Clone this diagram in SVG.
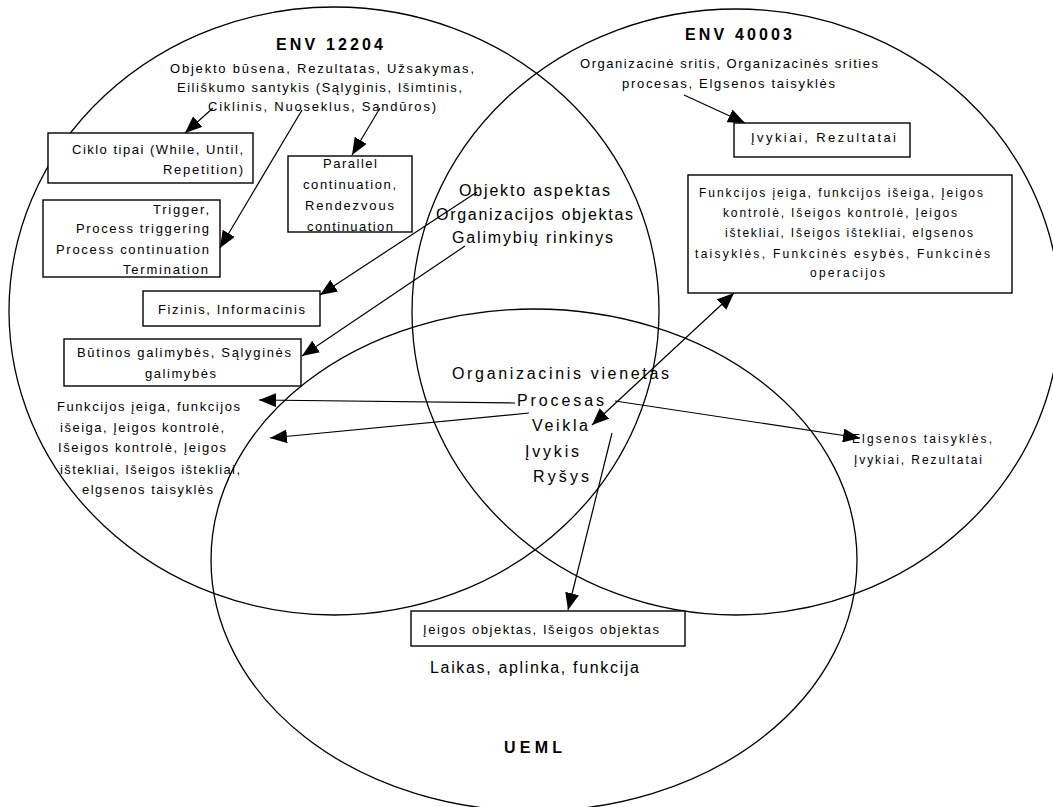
<svg xmlns="http://www.w3.org/2000/svg" width="1053" height="807" viewBox="0 0 1053 807">
  <defs>
    <marker id="head" markerUnits="userSpaceOnUse" markerWidth="17" markerHeight="14" viewBox="0 0 17 14" refX="17" refY="7" orient="auto-start-reverse">
      <path d="M0,0 L17,7 L0,14 Z" fill="#000"/>
    </marker>
    <style>
      .set { fill: none; stroke: #000; stroke-width: 1.3; }
      .box { fill: #fff; stroke: #000; stroke-width: 1.4; }
      .link { fill: none; stroke: #000; stroke-width: 1.2; }
      .arrow { marker-end: url(#head); }
      .both { marker-start: url(#head); marker-end: url(#head); }
      text { font-family: "Liberation Sans", Arial, sans-serif; fill: #000; }
      .t { font-size: 13px; }
      .s { font-size: 12px; }
      .m { font-size: 16px; }
      .h { font-size: 16px; font-weight: bold; }
    </style>
  </defs>
  <rect width="1053" height="807" fill="#fff"/>

  <!-- the three standards as overlapping sets -->
  <g id="set-env12204">
    <ellipse class="set" cx="334" cy="311" rx="325" ry="304"/>
  </g>
  <g id="set-env40003">
    <ellipse class="set" cx="736" cy="312" rx="324" ry="303"/>
  </g>
  <g id="set-ueml">
    <ellipse class="set" cx="534" cy="560" rx="323" ry="251"/>
  </g>

  <!-- ENV 12204 -->
  <g id="env12204-label">
    <text class="h" x="276" y="50" textLength="107">ENV 12204</text>
    <text class="t" x="170" y="73" textLength="304">Objekto būsena, Rezultatas, Užsakymas,</text>
    <text class="t" x="177" y="92" textLength="285">Eiliškumo santykis (Sąlyginis, Išimtinis,</text>
    <text class="t" x="208" y="111" textLength="228">Ciklinis, Nuoseklus, Sandūros)</text>
  </g>
  <g id="ciklo-tipai">
    <rect class="box" x="48" y="133" width="205" height="50"/>
    <text class="t" x="72" y="154" textLength="171">Ciklo tipai (While, Until,</text>
    <text class="t" x="163" y="174" textLength="80">Repetition)</text>
  </g>
  <g id="parallel">
    <rect class="box" x="288" y="156" width="124" height="76"/>
    <text class="t" x="323" y="168" textLength="54">Parallel</text>
    <text class="t" x="303" y="189" textLength="93">continuation,</text>
    <text class="t" x="305" y="210" textLength="89">Rendezvous</text>
    <text class="t" x="307" y="231" textLength="86">continuation</text>
  </g>
  <g id="trigger">
    <rect class="box" x="43" y="200" width="177" height="77"/>
    <text class="t" x="153" y="214" textLength="56">Trigger,</text>
    <text class="t" x="76" y="233" textLength="133">Process triggering</text>
    <text class="t" x="56" y="254" textLength="153">Process continuation</text>
    <text class="t" x="123" y="274" textLength="85">Termination</text>
  </g>
  <g id="fizinis">
    <rect class="box" x="143" y="291" width="177" height="35"/>
    <text class="t" x="158" y="314" textLength="147">Fizinis, Informacinis</text>
  </g>
  <g id="butinos">
    <rect class="box" x="64" y="339" width="237" height="47"/>
    <text class="t" x="77" y="357" textLength="214">Būtinos galimybės, Sąlyginės</text>
    <text class="t" x="145" y="378" textLength="71">galimybės</text>
  </g>
  <g id="funkcijos-left">
    <text class="t" x="57" y="411" textLength="183">Funkcijos įeiga, funkcijos</text>
    <text class="t" x="60" y="432" textLength="164">išeiga, Įeigos kontrolė,</text>
    <text class="t" x="58" y="452" textLength="168">Išeigos kontrolė, Įeigos</text>
    <text class="t" x="60" y="474" textLength="180">ištekliai, Išeigos ištekliai,</text>
    <text class="t" x="82" y="494" textLength="131">elgsenos taisyklės</text>
  </g>

  <!-- ENV 40003 -->
  <g id="env40003-label">
    <text class="h" x="685" y="40" textLength="107">ENV 40003</text>
    <text class="t" x="580" y="68" textLength="298">Organizacinė sritis, Organizacinės srities</text>
    <text class="t" x="622" y="88" textLength="213">procesas, Elgsenos taisyklės</text>
  </g>
  <g id="ivykiai-rezultatai">
    <rect class="box" x="734" y="123" width="176" height="34"/>
    <text class="t" x="751" y="142" textLength="145">Įvykiai, Rezultatai</text>
  </g>
  <g id="funkcijos-right">
    <rect class="box" x="688" y="175" width="324" height="118"/>
    <text class="s" x="699" y="197" textLength="284">Funkcijos įeiga, funkcijos išeiga, Įeigos</text>
    <text class="s" x="723" y="217" textLength="234">kontrolė, Išeigos kontrolė, Įeigos</text>
    <text class="s" x="725" y="237" textLength="248">ištekliai, Išeigos ištekliai, elgsenos</text>
    <text class="s" x="695" y="258" textLength="295">taisyklės, Funkcinės esybės, Funkcinės</text>
    <text class="s" x="810" y="277" textLength="75">operacijos</text>
  </g>
  <g id="elgsenos-right">
    <text class="s" x="852" y="443" textLength="140">Elgsenos taisyklės,</text>
    <text class="s" x="854" y="464" textLength="128">Įvykiai, Rezultatai</text>
  </g>

  <!-- shared concepts -->
  <g id="shared-12204-40003">
    <text class="m" x="459" y="196" textLength="151">Objekto aspektas</text>
    <text class="m" x="436" y="220" textLength="197">Organizacijos objektas</text>
    <text class="m" x="452" y="243" textLength="161">Galimybių rinkinys</text>
  </g>
  <g id="shared-all">
    <text class="m" x="452" y="379" textLength="217">Organizacinis vienetas</text>
    <text class="m" x="517" y="406" textLength="87">Procesas</text>
    <text class="m" x="532" y="431" textLength="56">Veikla</text>
    <text class="m" x="525" y="457" textLength="54">Įvykis</text>
    <text class="m" x="533" y="482" textLength="56">Ryšys</text>
  </g>

  <!-- UEML -->
  <g id="ieigos-objektas">
    <rect class="box" x="411" y="611" width="274" height="35"/>
    <text class="t" x="423" y="634" textLength="236">Įeigos objektas, Išeigos objektas</text>
  </g>
  <g id="ueml-label">
    <text class="m" x="430" y="673" textLength="209">Laikas, aplinka, funkcija</text>
    <text class="h" x="504" y="753" textLength="58">UEML</text>
  </g>

  <!-- connectors -->
  <g id="connectors">
    <line class="link arrow" x1="213" y1="108" x2="185" y2="133"/>
    <line class="link arrow" x1="302" y1="110" x2="220" y2="248"/>
    <line class="link arrow" x1="380" y1="108" x2="352" y2="155"/>
    <line class="link arrow" x1="477" y1="192" x2="320" y2="295"/>
    <line class="link arrow" x1="465" y1="246" x2="302" y2="356"/>
    <line class="link arrow" x1="515" y1="403" x2="259" y2="400"/>
    <line class="link arrow" x1="529" y1="413" x2="270" y2="438"/>
    <line class="link arrow" x1="615" y1="401" x2="860" y2="438"/>
    <line class="link both" x1="592" y1="425" x2="734" y2="293"/>
    <line class="link arrow" x1="612" y1="433" x2="568" y2="610"/>
    <line class="link arrow" x1="684" y1="95" x2="745" y2="123"/>
  </g>
</svg>
